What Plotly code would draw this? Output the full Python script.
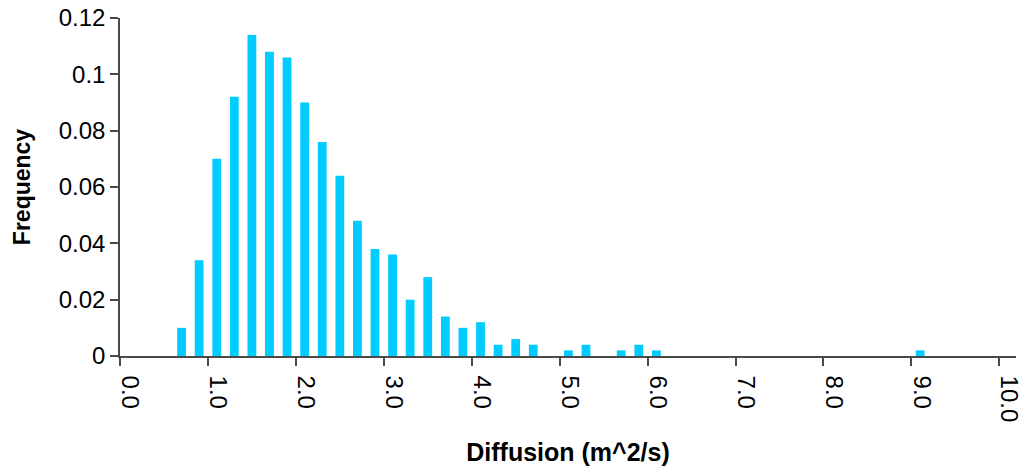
import plotly.graph_objects as go

# Histogram of diffusion coefficients: bin centres (m^2/s) and relative frequency
bin_centers = [0.7, 0.9, 1.1, 1.3, 1.5, 1.7, 1.9, 2.1, 2.3, 2.5, 2.7, 2.9, 3.1,
               3.3, 3.5, 3.7, 3.9, 4.1, 4.3, 4.5, 4.7, 5.1, 5.3, 5.7, 5.9, 6.1, 9.1]
frequency = [0.010, 0.034, 0.070, 0.092, 0.114, 0.108, 0.106, 0.090, 0.076,
             0.064, 0.048, 0.038, 0.036, 0.020, 0.028, 0.014, 0.010, 0.012,
             0.004, 0.006, 0.004, 0.002, 0.004, 0.002, 0.004, 0.002, 0.002]

x_ticks = [0, 1, 2, 3, 4, 5, 6, 7, 8, 9, 10]
x_tick_text = ["0.0", "1.0", "2.0", "3.0", "4.0", "5.0", "6.0", "7.0", "8.0", "9.0", "10.0"]
y_ticks = [0, 0.02, 0.04, 0.06, 0.08, 0.10, 0.12]
y_tick_text = ["0", "0.02", "0.04", "0.06", "0.08", "0.1", "0.12"]

FONT = "Liberation Sans, Arial, sans-serif"
AXIS_COLOR = "#4a4a4a"

fig = go.Figure(
    go.Bar(
        x=bin_centers,
        y=frequency,
        width=0.1,
        marker=dict(color="#00CCFF", line=dict(width=0)),
        hoverinfo="x+y",
    )
)

fig.update_layout(
    width=1024,
    height=467,
    autosize=False,
    margin=dict(l=120, r=8, t=18, b=111),
    paper_bgcolor="white",
    plot_bgcolor="white",
    showlegend=False,
    font=dict(family=FONT, color="black"),
)

fig.update_xaxes(
    range=[0, 10.19],
    automargin=False,
    tickmode="array",
    tickvals=x_ticks,
    ticktext=x_tick_text,
    tickangle=90,
    ticklabelshift=10,
    ticklabelstandoff=5,
    ticks="outside",
    ticklen=8,
    tickwidth=1.5,
    tickcolor=AXIS_COLOR,
    tickfont=dict(family=FONT, size=24, color="black"),
    showline=True,
    linecolor=AXIS_COLOR,
    linewidth=1.5,
    showgrid=False,
    zeroline=False,
    title=dict(text="<b>Diffusion (m^2/s)</b>",
               font=dict(family=FONT, size=25, color="black"),
               standoff=22),
)

fig.update_yaxes(
    range=[0, 0.12],
    automargin=False,
    tickmode="array",
    tickvals=y_ticks,
    ticktext=y_tick_text,
    ticks="outside",
    ticklen=8,
    tickwidth=1.5,
    tickcolor=AXIS_COLOR,
    tickfont=dict(family=FONT, size=24, color="black"),
    showline=True,
    linecolor=AXIS_COLOR,
    linewidth=1.5,
    showgrid=False,
    zeroline=False,
    title=dict(text="<b>Frequency</b>",
               font=dict(family=FONT, size=23, color="black"),
               standoff=22),
)

fig.write_html("out.html")
